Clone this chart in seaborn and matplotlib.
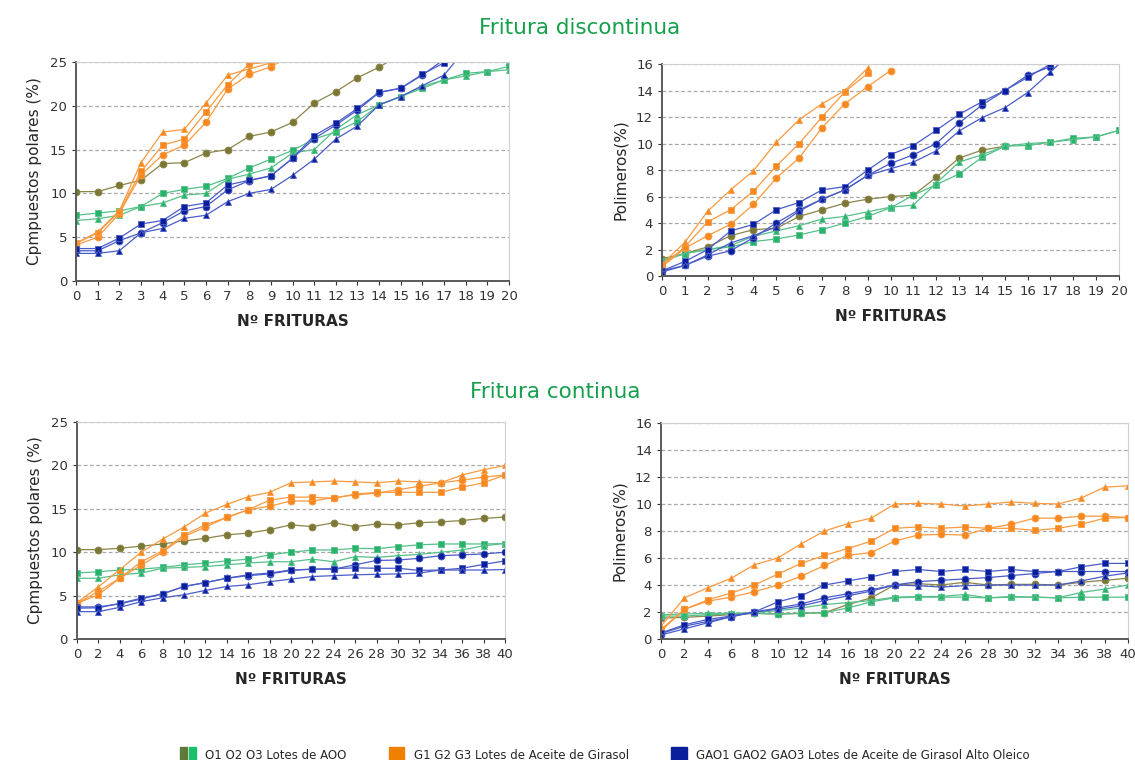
import numpy as np
import pandas as pd
import matplotlib
matplotlib.use('Agg')
import matplotlib.pyplot as plt
import seaborn as sns
from matplotlib.patches import Patch
from matplotlib.legend_handler import HandlerTuple

sns.set_style('white')
plt.rcParams['font.family'] = ['DejaVu Sans']

# DATA
lotes = ['O1', 'O2', 'O3', 'G1', 'G2', 'G3', 'GAO1', 'GAO2', 'GAO3']

# Fritura discontinua - compuestos polares (%)
disc_polares = {
    'O1': [10.2, 10.2, 10.9, 11.5, 13.4, 13.5, 14.6, 15.0, 16.5, 17.0, 18.1, 20.3, 21.6, 23.2, 24.4, 25.9],
    'O2': [7.5, 7.75, 8.0, 8.5, 10.0, 10.45, 10.8, 11.7, 12.9, 13.9, 14.9, 16.2, 17.0, 18.2, 20.1, 21.05, 22.0, 22.95, 23.7, 23.9, 24.5],
    'O3': [6.9, 7.1, 7.5, 8.5, 8.9, 9.8, 10.0, 11.6, 12.2, 12.9, 14.6, 15.0, 17.3, 19.0, 20.1, 21.05, 22.2, 22.95, 23.4, 23.9, 24.1],
    'G1': [4.1, 5.0, 7.7, 12.1, 14.4, 15.5, 18.1, 21.9, 23.6, 24.45, 25.8],
    'G2': [4.3, 5.5, 7.9, 12.5, 15.5, 16.2, 19.3, 22.4, 24.75, 25.0, 26.0],
    'G3': [4.3, 5.6, 8.0, 13.5, 17.0, 17.3, 20.3, 23.5, 24.2, 24.9, 26.0],
    'GAO1': [3.45, 3.45, 4.6, 5.5, 6.65, 8.0, 8.5, 10.4, 11.45, 12.0, 14.0, 16.25, 17.8, 19.5, 21.5, 22.0, 23.5, 25.3],
    'GAO2': [3.7, 3.7, 4.9, 6.5, 6.9, 8.5, 8.9, 10.95, 11.5, 12.0, 14.0, 16.6, 18.0, 19.7, 21.55, 22.0, 23.6, 24.9],
    'GAO3': [3.15, 3.15, 3.45, 5.5, 6.0, 7.15, 7.5, 9.05, 10.0, 10.45, 12.05, 13.9, 16.2, 17.7, 20.1, 21.05, 22.3, 23.5, 26.5],
}

# Fritura discontinua - polimeros (%)
disc_polimeros = {
    'O1': [1.3, 1.7, 2.2, 3.05, 3.5, 3.6, 4.5, 5.0, 5.5, 5.8, 6.0, 6.1, 7.45, 8.9, 9.5, 9.8],
    'O2': [1.1, 1.7, 2.0, 2.2, 2.6, 2.8, 3.1, 3.5, 4.0, 4.5, 5.15, 6.1, 6.9, 7.7, 8.95, 9.8, 9.85, 10.1, 10.4, 10.5, 11.0],
    'O3': [1.2, 1.7, 2.0, 2.3, 3.0, 3.4, 3.8, 4.3, 4.5, 4.85, 5.2, 5.35, 7.0, 8.6, 9.15, 9.8, 10.0, 10.1, 10.3, 10.5, 11.0],
    'G1': [0.7, 2.1, 3.05, 3.9, 5.4, 7.4, 8.9, 11.2, 13.0, 14.3, 15.5],
    'G2': [0.8, 2.2, 4.1, 5.0, 6.4, 8.3, 10.0, 12.0, 13.9, 15.3],
    'G3': [0.9, 2.55, 4.9, 6.5, 7.95, 10.1, 11.8, 13.0, 14.0, 15.7],
    'GAO1': [0.4, 0.8, 1.5, 1.9, 2.9, 4.0, 5.0, 5.8, 6.5, 7.6, 8.5, 9.15, 10.0, 11.55, 12.9, 14.0, 15.15, 15.8],
    'GAO2': [0.4, 1.1, 2.0, 3.4, 3.9, 5.0, 5.55, 6.5, 6.75, 8.0, 9.17, 9.85, 11.0, 12.2, 13.15, 14.0, 15.0, 16.0],
    'GAO3': [0.3, 0.8, 1.6, 2.5, 3.05, 3.7, 4.9, 5.8, 6.5, 7.6, 8.1, 8.6, 9.45, 10.95, 11.95, 12.7, 13.85, 15.4, 17.0],
}

# Fritura continua - compuestos polares (%), frituras 0, 2, ..., 40
cont_polares = {
    'O1': [10.3, 10.3, 10.45, 10.7, 10.95, 11.3, 11.6, 12.0, 12.2, 12.6, 13.15, 12.95, 13.4, 12.95, 13.25, 13.15, 13.4, 13.5, 13.65, 13.9, 14.05],
    'O2': [7.6, 7.75, 7.95, 8.05, 8.25, 8.55, 8.75, 9.0, 9.2, 9.7, 10.0, 10.25, 10.25, 10.45, 10.4, 10.65, 10.85, 10.95, 10.95, 10.95, 11.0],
    'O3': [7.0, 7.0, 7.4, 7.6, 8.15, 8.25, 8.35, 8.55, 8.75, 8.9, 8.9, 9.2, 8.9, 9.5, 9.4, 9.6, 9.75, 10.0, 10.25, 10.75, 11.0],
    'G1': [4.1, 5.5, 7.0, 8.5, 10.0, 11.8, 12.9, 14.0, 14.9, 15.3, 15.9, 15.9, 16.3, 16.6, 16.8, 17.2, 17.6, 18.0, 18.3, 18.65, 18.9],
    'G2': [4.1, 5.1, 7.0, 8.9, 10.15, 12.0, 13.15, 14.0, 14.9, 16.0, 16.35, 16.35, 16.2, 16.7, 16.9, 16.9, 16.9, 16.9, 17.5, 18.0, 18.9],
    'G3': [4.2, 6.0, 8.0, 10.0, 11.5, 12.9, 14.5, 15.5, 16.4, 16.9, 18.0, 18.1, 18.2, 18.1, 18.0, 18.2, 18.1, 18.0, 18.9, 19.5, 20.0],
    'GAO1': [3.7, 3.7, 4.05, 4.6, 5.2, 6.05, 6.5, 7.0, 7.3, 7.5, 7.9, 8.05, 8.05, 8.55, 9.05, 9.1, 9.3, 9.6, 9.7, 9.8, 10.0],
    'GAO2': [3.55, 3.6, 4.1, 4.7, 5.2, 6.05, 6.5, 7.0, 7.4, 7.6, 7.95, 8.05, 8.1, 8.2, 8.15, 8.15, 7.9, 7.95, 8.15, 8.6, 9.0],
    'GAO3': [3.15, 3.15, 3.65, 4.3, 4.75, 5.1, 5.6, 6.05, 6.25, 6.6, 6.9, 7.2, 7.3, 7.4, 7.45, 7.5, 7.6, 7.95, 7.95, 7.95, 8.0],
}

# Fritura continua - polimeros (%)
cont_polimeros = {
    'O1': [1.55, 1.6, 1.7, 1.8, 1.9, 1.85, 1.9, 1.95, 2.55, 3.05, 4.0, 4.1, 4.0, 4.2, 4.0, 4.05, 4.05, 4.0, 4.2, 4.35, 4.5],
    'O2': [1.7, 1.7, 1.8, 1.85, 1.9, 1.85, 1.9, 1.95, 2.3, 2.75, 3.05, 3.1, 3.1, 3.1, 3.05, 3.1, 3.1, 3.05, 3.1, 3.1, 3.1],
    'O3': [1.8, 1.85, 1.9, 1.9, 1.95, 2.1, 2.3, 2.55, 2.7, 2.85, 3.1, 3.15, 3.15, 3.3, 3.05, 3.15, 3.1, 3.05, 3.45, 3.7, 4.0],
    'G1': [0.6, 2.2, 2.8, 3.1, 3.5, 4.0, 4.65, 5.45, 6.2, 6.4, 7.25, 7.7, 7.75, 7.7, 8.2, 8.5, 8.95, 8.95, 9.1, 9.1, 9.0],
    'G2': [0.7, 2.2, 2.9, 3.4, 4.0, 4.8, 5.6, 6.2, 6.7, 7.25, 8.2, 8.3, 8.2, 8.3, 8.2, 8.2, 8.05, 8.2, 8.5, 8.95, 9.0],
    'G3': [0.95, 3.05, 3.8, 4.5, 5.5, 6.0, 7.05, 8.0, 8.55, 8.95, 10.0, 10.05, 10.0, 9.85, 10.0, 10.15, 10.05, 10.0, 10.45, 11.25, 11.35],
    'GAO1': [0.4, 0.95, 1.3, 1.65, 2.0, 2.3, 2.6, 3.05, 3.35, 3.65, 4.0, 4.25, 4.35, 4.45, 4.55, 4.7, 4.85, 5.0, 5.0, 5.0, 5.0],
    'GAO2': [0.45, 1.05, 1.45, 1.7, 2.0, 2.75, 3.2, 4.0, 4.3, 4.6, 5.0, 5.15, 5.0, 5.15, 5.0, 5.15, 5.0, 5.0, 5.35, 5.6, 5.6],
    'GAO3': [0.3, 0.75, 1.2, 1.65, 2.0, 2.2, 2.45, 2.85, 3.2, 3.55, 4.0, 3.95, 3.85, 3.95, 4.0, 4.0, 4.0, 4.0, 4.3, 4.65, 4.9],
}

# STYLE
marker_col = {'O1': '#7b7836', 'O2': '#27b36a', 'O3': '#27b36a',
              'G1': '#f7881f', 'G2': '#f7881f', 'G3': '#f7881f',
              'GAO1': '#0b1f9b', 'GAO2': '#0b1f9b', 'GAO3': '#0b1f9b'}
line_col = {'O1': '#8a8548', 'O2': '#55c08a', 'O3': '#55c08a',
            'G1': '#f99a40', 'G2': '#f99a40', 'G3': '#f99a40',
            'GAO1': '#4a5cc8', 'GAO2': '#4a5cc8', 'GAO3': '#4a5cc8'}
markers = {'O1': 'o', 'O2': 's', 'O3': '^', 'G1': 'o', 'G2': 's', 'G3': '^',
           'GAO1': 'o', 'GAO2': 's', 'GAO3': '^'}


def to_long(series, step):
    rows = []
    for lote in lotes:
        for i, v in enumerate(series[lote]):
            rows.append({'frituras': i * step, 'valor': v, 'lote': lote})
    return pd.DataFrame(rows)


def draw_panel(ax, series, step, xmax, ymax, ystep, ylabel):
    df = to_long(series, step)
    sns.lineplot(data=df, x='frituras', y='valor', hue='lote', style='lote',
                 hue_order=lotes, style_order=lotes, palette=marker_col,
                 markers=markers, dashes=False, markersize=5, linewidth=0.9,
                 errorbar=None, legend=False, ax=ax)
    for line, lote in zip(ax.lines, lotes):
        line.set_color(line_col[lote])
        line.set_markerfacecolor(marker_col[lote])
        line.set_markeredgecolor(line_col[lote])
        line.set_markeredgewidth(0.6)
    ax.set_xlim(0, xmax)
    ax.set_ylim(0, ymax)
    ax.set_xticks(np.arange(0, xmax + 1, step))
    ax.set_yticks(np.arange(0, ymax + 1, ystep))
    ax.yaxis.grid(True, linestyle=(0, (3, 2)), color='#a8a8a8', linewidth=0.9)
    ax.set_axisbelow(True)
    for s in ['top', 'right']:
        ax.spines[s].set_color('#cfcfcf')
        ax.spines[s].set_linewidth(0.8)
    for s in ['left', 'bottom']:
        ax.spines[s].set_color('#5a5a5a')
        ax.spines[s].set_linewidth(1.4)
    ax.tick_params(axis='both', labelsize=9.5, colors='#333333', length=3,
                   direction='out', bottom=True, left=True)
    ax.set_xlabel('Nº FRITURAS', fontsize=11, fontweight='bold', labelpad=8)
    ax.set_ylabel(ylabel, fontsize=11, labelpad=6)


fig = plt.figure(figsize=(11.35, 7.6), dpi=100)
ax1 = fig.add_axes([0.0670, 0.6303, 0.3815, 0.2882])
ax2 = fig.add_axes([0.5833, 0.6368, 0.4026, 0.2789])
ax3 = fig.add_axes([0.0678, 0.1592, 0.3771, 0.2855])
ax4 = fig.add_axes([0.5824, 0.1592, 0.4115, 0.2842])

draw_panel(ax1, disc_polares, 1, 20, 25, 5, 'Cpmpuestos polares (%)')
draw_panel(ax2, disc_polimeros, 1, 20, 16, 2, 'Polimeros(%)')
draw_panel(ax3, cont_polares, 2, 40, 25, 5, 'Cpmpuestos polares (%)')
draw_panel(ax4, cont_polimeros, 2, 40, 16, 2, 'Polimeros(%)')

fig.text(0.511, 0.963, 'Fritura discontinua', ha='center', va='center',
         fontsize=15.5, color='#14a04b')
fig.text(0.489, 0.484, 'Fritura continua', ha='center', va='center',
         fontsize=15.5, color='#14a04b')

handles = [(Patch(color='#5f7a36'), Patch(color='#19c06a')),
           Patch(color='#f08000'), Patch(color='#0a1f9b')]
labels = ['O1 O2 O3 Lotes de AOO', 'G1 G2 G3 Lotes de Aceite de Girasol',
          'GAO1 GAO2 GAO3 Lotes de Aceite de Girasol Alto Oleico']
fig.legend(handles, labels, loc='center', bbox_to_anchor=(0.533, 0.007),
           ncol=3, frameon=False, fontsize=8.5, handlelength=1.3,
           handleheight=1.7, columnspacing=3.6,
           handler_map={tuple: HandlerTuple(ndivide=None, pad=0.2)})

fig.savefig('out.png', dpi=100)
